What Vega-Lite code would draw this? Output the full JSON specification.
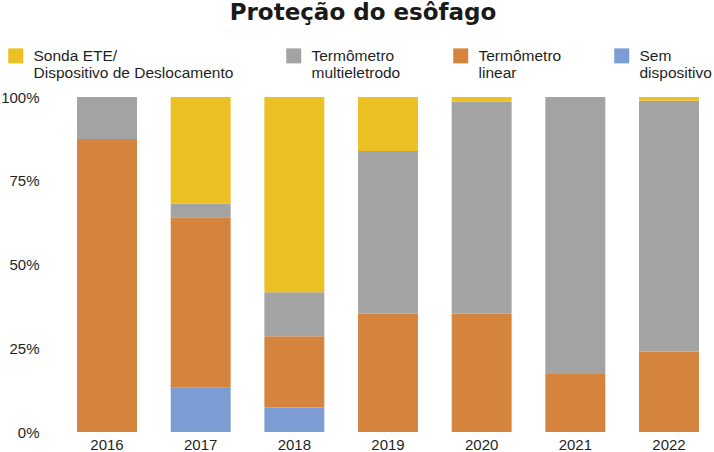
{
  "$schema": "https://vega.github.io/schema/vega-lite/v6.json",
  "autosize": "none",
  "width": 650,
  "height": 335,
  "padding": {"left": 63, "top": 97, "right": 1, "bottom": 20},
  "background": "white",
  "title": {
    "text": "Proteção do esôfago",
    "font": "DejaVu Sans",
    "fontSize": 23,
    "fontWeight": "bold",
    "color": "#1a1a1a",
    "anchor": "middle",
    "dx": -25,
    "baseline": "alphabetic",
    "offset": 5
  },
  "data": {
    "values": [
      {"ano": "2016", "cat": "Termômetro|linear", "pct": 87.5, "ord": 2},
      {"ano": "2016", "cat": "Termômetro|multieletrodo", "pct": 12.5, "ord": 3},

      {"ano": "2017", "cat": "Sem|dispositivo", "pct": 13.2, "ord": 1},
      {"ano": "2017", "cat": "Termômetro|linear", "pct": 50.9, "ord": 2},
      {"ano": "2017", "cat": "Termômetro|multieletrodo", "pct": 4.0, "ord": 3},
      {"ano": "2017", "cat": "Sonda ETE/|Dispositivo de Deslocamento", "pct": 31.9, "ord": 4},

      {"ano": "2018", "cat": "Sem|dispositivo", "pct": 7.3, "ord": 1},
      {"ano": "2018", "cat": "Termômetro|linear", "pct": 21.3, "ord": 2},
      {"ano": "2018", "cat": "Termômetro|multieletrodo", "pct": 13.1, "ord": 3},
      {"ano": "2018", "cat": "Sonda ETE/|Dispositivo de Deslocamento", "pct": 58.3, "ord": 4},

      {"ano": "2019", "cat": "Termômetro|linear", "pct": 35.4, "ord": 2},
      {"ano": "2019", "cat": "Termômetro|multieletrodo", "pct": 48.5, "ord": 3},
      {"ano": "2019", "cat": "Sonda ETE/|Dispositivo de Deslocamento", "pct": 16.1, "ord": 4},

      {"ano": "2020", "cat": "Termômetro|linear", "pct": 35.4, "ord": 2},
      {"ano": "2020", "cat": "Termômetro|multieletrodo", "pct": 63.2, "ord": 3},
      {"ano": "2020", "cat": "Sonda ETE/|Dispositivo de Deslocamento", "pct": 1.4, "ord": 4},

      {"ano": "2021", "cat": "Termômetro|linear", "pct": 17.3, "ord": 2},
      {"ano": "2021", "cat": "Termômetro|multieletrodo", "pct": 82.7, "ord": 3},

      {"ano": "2022", "cat": "Termômetro|linear", "pct": 24.0, "ord": 2},
      {"ano": "2022", "cat": "Termômetro|multieletrodo", "pct": 74.9, "ord": 3},
      {"ano": "2022", "cat": "Sonda ETE/|Dispositivo de Deslocamento", "pct": 1.1, "ord": 4}
    ]
  },
  "mark": {"type": "bar"},
  "encoding": {
    "x": {
      "field": "ano",
      "type": "ordinal",
      "scale": {"paddingInner": 0.36, "paddingOuter": 0.15},
      "axis": {
        "title": null,
        "labelAngle": 0,
        "domain": false,
        "ticks": false,
        "tickSize": 0,
        "labelPadding": 5,
        "labelBaseline": "top",
        "labelFont": "Liberation Sans",
        "labelFontSize": 15,
        "labelColor": "#1f1f1f"
      }
    },
    "y": {
      "field": "pct",
      "type": "quantitative",
      "stack": "zero",
      "scale": {"domain": [0, 100], "nice": false},
      "axis": {
        "title": null,
        "values": [0, 25, 50, 75, 100],
        "labelExpr": "datum.value + '%'",
        "grid": false,
        "domain": false,
        "ticks": false,
        "tickSize": 0,
        "labelPadding": 24,
        "labelFont": "Liberation Sans",
        "labelFontSize": 15,
        "labelColor": "#1f1f1f"
      }
    },
    "color": {
      "field": "cat",
      "type": "nominal",
      "scale": {
        "domain": [
          "Sonda ETE/|Dispositivo de Deslocamento",
          "Termômetro|multieletrodo",
          "Termômetro|linear",
          "Sem|dispositivo"
        ],
        "range": ["#EBC024", "#A3A3A3", "#D4843D", "#7B9DD3"]
      },
      "legend": {
        "title": null,
        "orient": "none",
        "legendX": -55,
        "legendY": -49,
        "direction": "horizontal",
        "columns": 4,
        "columnPadding": 52,
        "padding": 0,
        "symbolType": "square",
        "symbolSize": 225,
        "symbolStrokeWidth": 0,
        "labelOffset": 10,
        "labelLimit": 400,
        "labelExpr": "split(datum.label, '|')",
        "labelFont": "Liberation Sans",
        "labelFontSize": 15.5,
        "labelColor": "#1f1f1f"
      }
    },
    "order": {"field": "ord", "type": "quantitative"}
  },
  "config": {
    "view": {"stroke": null}
  }
}
